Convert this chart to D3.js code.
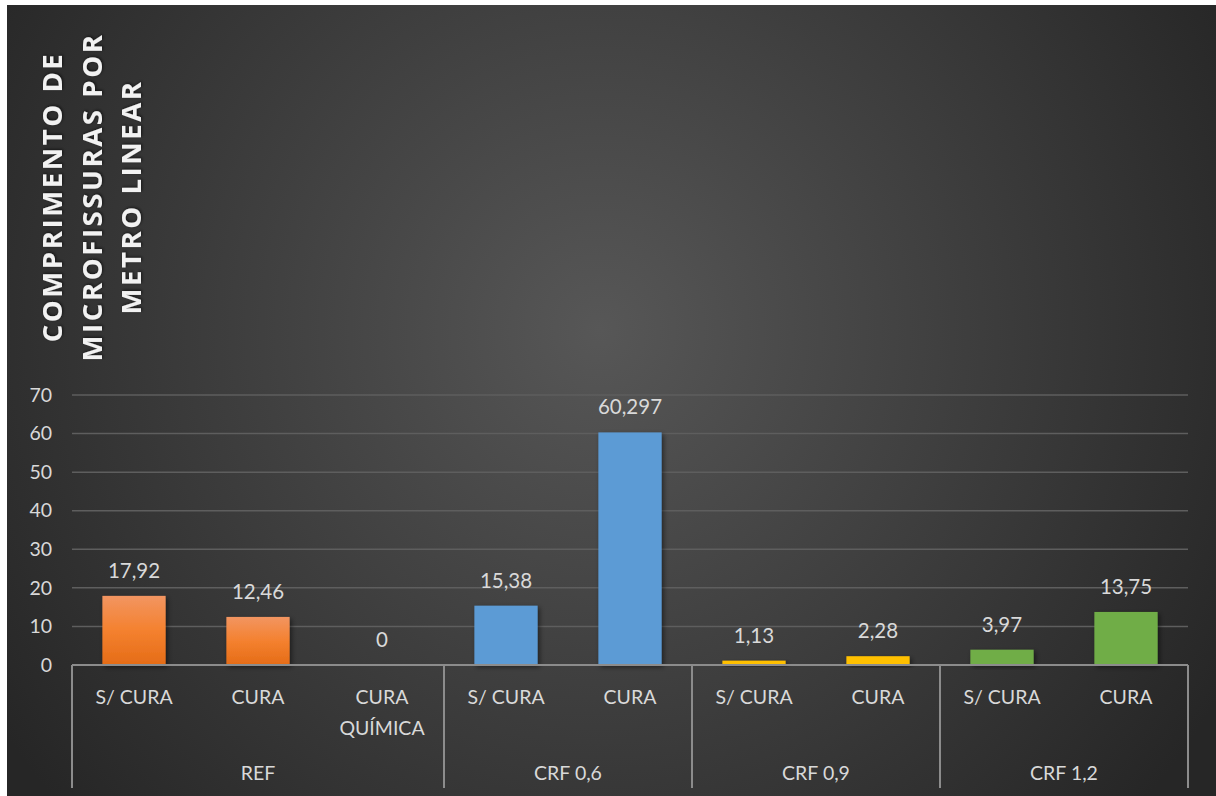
<!DOCTYPE html>
<html><head><meta charset="utf-8">
<script src="https://cdn.jsdelivr.net/npm/d3@7"></script>
<style>
html,body{margin:0;padding:0;background:#fff;}
svg{display:block;}
</style></head>
<body>
<svg id="c" width="1216" height="796"></svg>
<script>
const categories = ["S/ CURA","CURA","CURA QUÍMICA","S/ CURA","CURA","S/ CURA","CURA","S/ CURA","CURA"];
const groups = ["REF","REF","REF","CRF 0,6","CRF 0,6","CRF 0,9","CRF 0,9","CRF 1,2","CRF 1,2"];
const values = [17.92,12.46,0,15.38,60.297,1.13,2.28,3.97,13.75];
const valueLabels = ["17,92","12,46","0","15,38","60,297","1,13","2,28","3,97","13,75"];
const groupNames = ["REF","CRF 0,6","CRF 0,9","CRF 1,2"];
const yTicks = [0,10,20,30,40,50,60,70];
const titleLines = ["COMPRIMENTO DE","MICROFISSURAS POR","METRO LINEAR"];

(function(){
const svg = d3.select("#c");
const defs = svg.append("defs");
const rg = defs.append("radialGradient").attr("id","bg").attr("gradientUnits","userSpaceOnUse")
  .attr("cx",600).attr("cy",330).attr("r",720);
rg.append("stop").attr("offset","0").attr("stop-color","#575757");
rg.append("stop").attr("offset","1").attr("stop-color","#262626");
const og = defs.append("linearGradient").attr("id","orange").attr("x1",0).attr("y1",0).attr("x2",0).attr("y2",1);
og.append("stop").attr("offset","0").attr("stop-color","#f29561");
og.append("stop").attr("offset","0.5").attr("stop-color","#f4812f");
og.append("stop").attr("offset","1").attr("stop-color","#e56c17");
const sh = defs.append("filter").attr("id","sh").attr("x","-20%").attr("y","-20%").attr("width","150%").attr("height","150%");
sh.append("feDropShadow").attr("dx",2).attr("dy",2).attr("stdDeviation",2.5).attr("flood-color","#000").attr("flood-opacity",0.5);
const tsh = defs.append("filter").attr("id","tsh");
tsh.append("feDropShadow").attr("dx",1).attr("dy",1).attr("stdDeviation",1.5).attr("flood-color","#000").attr("flood-opacity",0.6);

svg.append("rect").attr("x",7).attr("y",5).attr("width",1209).attr("height",791).attr("fill","url(#bg)");

const font = "Lato, 'Open Sans', sans-serif";
const pLeft = 72, pRight = 1188, pTop = 395, pBottom = 665;
const x = d3.scaleBand().domain(d3.range(categories.length)).range([pLeft,pRight]).paddingInner(0.49).paddingOuter(0.245);
const step = x.step();
const y = d3.scaleLinear().domain([0,70]).range([pBottom,pTop]);

const colorOf = g => g==="REF" ? "url(#orange)" : g==="CRF 0,6" ? "#5b9bd5" : g==="CRF 0,9" ? "#ffc000" : "#70ad47";

svg.append("g").selectAll("line").data(yTicks.filter(t=>t>0)).join("line")
  .attr("x1",pLeft).attr("x2",pRight).attr("y1",d=>y(d)).attr("y2",d=>y(d))
  .attr("stroke","#5e5e5e").attr("stroke-width",1.5);

const yAxis = d3.axisLeft(y).tickValues(yTicks).tickSize(0).tickPadding(20);
const ya = svg.append("g").attr("transform",`translate(${pLeft},0)`).call(yAxis);
ya.select(".domain").remove();
ya.selectAll("text").attr("font-family",font).attr("font-size",19.5).attr("fill","#d9d9d9");

svg.append("g").selectAll("rect").data(values).join("rect")
  .attr("x",(d,i)=>x(i)).attr("width",x.bandwidth())
  .attr("y",d=>y(d)).attr("height",d=>y(0)-y(d))
  .attr("fill",(d,i)=>colorOf(groups[i])).attr("filter",(d)=>d>0?"url(#sh)":null);

svg.append("g").selectAll("text").data(values).join("text")
  .attr("x",(d,i)=>x(i)+x.bandwidth()/2).attr("y",d=>y(d)-18)
  .attr("text-anchor","middle").attr("font-family",font).attr("font-size",20.5).attr("fill","#d9d9d9")
  .text((d,i)=>valueLabels[i]);

svg.append("line").attr("x1",pLeft).attr("x2",pRight).attr("y1",pBottom).attr("y2",pBottom)
  .attr("stroke","#8c8c8c").attr("stroke-width",2);

const bounds = [0];
groupNames.forEach(g=>{ bounds.push(bounds[bounds.length-1] + groups.filter(v=>v===g).length); });
svg.append("g").selectAll("line").data(bounds).join("line")
  .attr("x1",d=>pLeft+d*step).attr("x2",d=>pLeft+d*step).attr("y1",pBottom).attr("y2",788)
  .attr("stroke","#8c8c8c").attr("stroke-width",2);

const cl = svg.append("g").selectAll("text").data(categories).join("text")
  .attr("x",(d,i)=>x(i)+x.bandwidth()/2).attr("y",704)
  .attr("text-anchor","middle").attr("font-family",font).attr("font-size",19.5).attr("fill","#d9d9d9");
cl.each(function(d){
  const t = d3.select(this);
  const parts = d==="CURA QUÍMICA" ? ["CURA","QUÍMICA"] : [d];
  parts.forEach((p,k)=>t.append("tspan").attr("x",t.attr("x")).attr("dy",k?31:0).text(p));
});

svg.append("g").selectAll("text").data(groupNames).join("text")
  .attr("x",(d,k)=>pLeft+(bounds[k]+bounds[k+1])/2*step).attr("y",780)
  .attr("text-anchor","middle").attr("font-family",font).attr("font-size",19.5).attr("fill","#d9d9d9")
  .text(d=>d);

const tg = svg.append("g").attr("transform","translate(0,197) rotate(-90)");
tg.selectAll("text").data(titleLines).join("text")
  .attr("x",0).attr("y",(d,i)=>62+i*39.5)
  .attr("text-anchor","middle").attr("font-family","'Open Sans', sans-serif").attr("font-weight","bold")
  .attr("font-size",27.5).attr("letter-spacing",2.6).attr("fill","#f2f2f2").attr("filter","url(#tsh)")
  .text(d=>d);
})();
</script>
</body></html>
